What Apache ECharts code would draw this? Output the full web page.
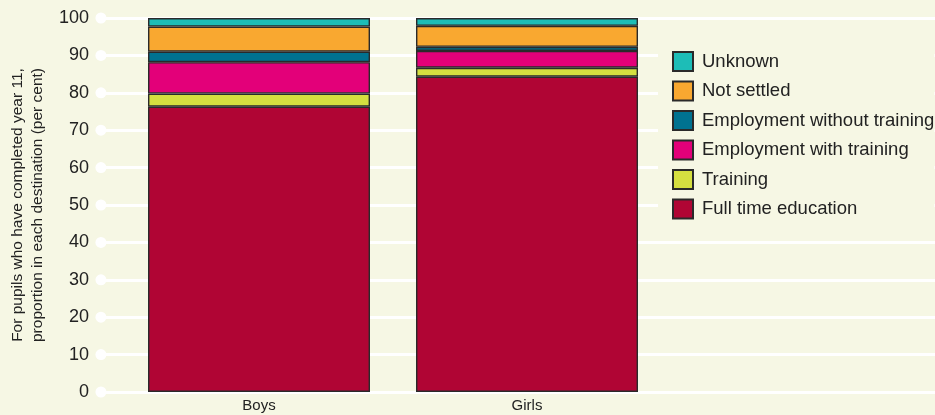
<!DOCTYPE html>
<html><head><meta charset="utf-8">
<script src="https://cdn.jsdelivr.net/npm/echarts@6/dist/echarts.min.js"></script>
<style>html,body{margin:0;padding:0;background:#f6f7e4}#c{width:935px;height:415px}</style>
</head><body><div id="c"></div>
<script>
var categories = ['Boys', 'Girls'];
var fullTime = [76.3, 84.3];
var training = [3.5, 2.4];
var empWith = [8.4, 4.5];
var empWithout = [2.8, 1.1];
var notSettled = [6.7, 5.6];
var unknown = [2.3, 2.1];
var yTicks = [0, 10, 20, 30, 40, 50, 60, 70, 80, 90, 100];
var seriesNames = ['Full time education', 'Training', 'Employment with training', 'Employment without training', 'Not settled', 'Unknown'];
var seriesColors = ['#b00534', '#d5df40', '#e30079', '#007290', '#f9a830', '#1dbdb7'];
var seriesData = [fullTime, training, empWith, empWithout, notSettled, unknown];

var chart = echarts.init(document.getElementById('c'), null, {renderer: 'canvas'});
var font = 'Liberation Sans, Arial, sans-serif';
var series = seriesNames.map(function (n, i) {
  return {
    name: n, type: 'bar', stack: 's', xAxisIndex: 1, yAxisIndex: 1,
    barWidth: 222, data: seriesData[i],
    itemStyle: {color: seriesColors[i], borderColor: '#2a2a2a', borderWidth: 1.4},
    emphasis: {disabled: true}, z: 3
  };
});
series.push({
  name: 'tickdots',
  type: 'scatter', xAxisIndex: 0, yAxisIndex: 0, clip: false, silent: true,
  symbol: 'circle', symbolSize: 11, itemStyle: {color: '#ffffff', opacity: 1},
  data: yTicks.map(function (t) { return [0, t]; }), z: 10
});
chart.setOption({
  backgroundColor: '#f6f7e4',
  animation: false,
  grid: [
    {left: 97, right: 0, top: 18, bottom: 23},
    {left: 125, width: 536, top: 18, bottom: 23}
  ],
  xAxis: [
    {gridIndex: 0, type: 'value', min: 0, max: 1, axisLine: {show: false}, axisTick: {show: false}, axisLabel: {show: false}, splitLine: {show: false}},
    {gridIndex: 1, type: 'category', data: categories,
     axisLine: {show: false}, axisTick: {show: false},
     axisLabel: {fontSize: 15, color: '#222', fontFamily: font, margin: 6}}
  ],
  yAxis: [
    {gridIndex: 0, type: 'value', min: 0, max: 100, interval: 10,
     axisLine: {show: false}, axisTick: {show: false},
     axisLabel: {fontSize: 18, color: '#222', fontFamily: font, margin: 12},
     splitLine: {show: true, lineStyle: {color: '#ffffff', width: 3}},
     name: 'For pupils who have completed year 11,\nproportion in each destination (per cent)',
     nameLocation: 'middle', nameGap: 51, nameRotate: 90,
     nameTextStyle: {fontSize: 15.5, color: '#222', fontFamily: font, lineHeight: 20}},
    {gridIndex: 1, type: 'value', min: 0, max: 100, show: false}
  ],
  legend: {
    data: seriesNames.slice().reverse(),
    orient: 'vertical', left: 658, top: 37,
    padding: [14, 0, 14, 14],
    backgroundColor: '#f6f7e4',
    itemWidth: 20, itemHeight: 19, itemGap: 8.5,
    icon: 'rect',
    textStyle: {fontSize: 18.5, color: '#222', fontFamily: font, padding: [0, 0, 0, 4], lineHeight: 20},
    selectedMode: false, z: 10
  },
  series: series
});
</script></body></html>
